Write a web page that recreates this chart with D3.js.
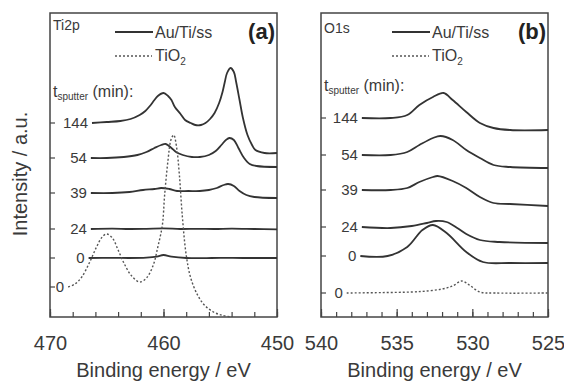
<!DOCTYPE html>
<html lang="en">
<head>
<meta charset="UTF-8">
<title>XPS Ti2p / O1s</title>
<script src="https://d3js.org/d3.v7.min.js"></script>
<style>
    body { margin: 0; background: #fff; }
    svg { display: block; font-family: Arial, "Liberation Sans", sans-serif; }
</style>
</head>
<body>
<svg id="chart" width="564" height="381"></svg>
<script>
// sputter time labels, top to bottom
const sputterLabels = ["144", "54", "39", "24", "0", "0"];

// Ti2p spectra: [binding energy (eV), intensity (a.u.)]
const ti144 = [[466.3,97],[465.0,97.5],[463.8,98],[462.9,99],[462.1,101],[461.6,103],[461.2,105.5],[460.8,108.5],[460.5,110.5],[460.0,112],[459.6,110.5],[459.3,108.5],[459.0,105],[458.5,101.5],[458.1,98.5],[457.6,97],[457.2,96],[456.7,96],[456.3,97],[455.9,99],[455.5,102],[455.1,107],[454.8,112.5],[454.6,117.5],[454.4,122],[454.1,124.5],[453.8,122.5],[453.6,117.5],[453.3,108.5],[453.0,99.5],[452.6,91],[452.2,86],[451.9,83.5],[451.1,82],[450.0,82]];
const ti54 = [[466.4,79.5],[465.0,79.5],[463.5,80],[462.3,81],[461.5,82.5],[460.8,84.5],[460.2,86],[459.8,86.5],[459.3,84.5],[458.9,82.5],[458.3,81],[457.5,80],[456.8,80],[456.0,81],[455.4,83],[454.9,86],[454.5,88.5],[454.2,89.5],[453.8,88.5],[453.4,84.5],[452.9,79.5],[452.4,76.5],[451.8,75.5],[450.0,75]];
const ti39 = [[466.4,62],[464.5,62],[463.0,62.5],[461.8,63.5],[460.8,64],[460.2,64.5],[459.5,64],[458.8,63],[457.8,63],[456.8,63],[456.0,63.5],[455.3,64.5],[454.7,66],[454.3,66.5],[453.8,65.5],[453.3,63],[452.7,61],[452.0,60],[450.0,59.5]];
const ti24 = [[466.4,44],[464.5,44.2],[463.0,44],[461.5,44.1],[460.0,44.3],[458.5,44],[457.0,44.1],[455.5,44],[454.0,44.2],[452.0,44],[450.0,43.8]];
const ti0 = [[466.6,29.5],[464.5,29.6],[463.0,29.5],[461.5,29.7],[460.6,30.2],[460.0,31],[459.3,30.2],[458.0,29.5],[456.5,29.4],[455.0,29.6],[453.0,29.5],[450.0,29.5]];
const tiTiO2 = [[468.4,15],[467.8,16.5],[467.2,20],[466.5,27.5],[465.9,35],[465.4,40],[465.0,41.5],[464.5,39.5],[464.0,33.5],[463.4,26],[462.8,20.5],[462.1,17.5],[461.5,19.5],[460.9,26],[460.5,35],[460.1,46],[459.9,61],[459.6,78.5],[459.35,88.5],[459.1,91],[458.85,85],[458.6,71],[458.35,51],[458.0,31],[457.6,19.5],[457.0,11],[456.4,6],[455.6,2.5],[454.8,0.8],[454.0,0]];

// O1s spectra
const o144 = [[537.3,99.5],[535.4,99.5],[534.3,101],[533.5,106],[532.6,110],[531.9,112],[531.3,108.5],[530.4,102.5],[529.5,97],[528.6,94.5],[527.5,93.5],[525.0,93.5]];
const o54 = [[537.3,81],[535.4,81],[534.3,82.5],[533.5,86],[532.6,89.5],[532.1,90.5],[531.3,88.5],[530.4,83.5],[529.5,79.5],[528.6,76],[527.5,75],[525.0,74.5]];
const o39 = [[537.3,63.5],[535.4,63.5],[534.3,64.5],[533.5,67.5],[532.6,70],[532.3,70.5],[531.3,68],[530.4,64.5],[529.5,60],[528.6,57],[527.5,56.5],[525.0,55.5]];
const o24 = [[537.3,45],[535.4,44.5],[534.0,45.5],[533.0,47],[532.4,48],[531.7,47.5],[531.0,44.5],[530.4,41.5],[529.5,38.5],[528.2,37.5],[525.0,37]];
const o0 = [[537.4,30.5],[535.6,30.5],[534.3,35],[533.3,43.5],[532.6,46],[531.7,42],[530.4,32.5],[529.3,27.5],[527.5,27],[525.0,27]];
const oTiO2 = [[538.3,12],[536.0,12.2],[534.0,12.5],[533.0,13],[532.0,14],[531.3,15.5],[530.7,18],[530.2,16],[529.5,12.5],[528.5,12],[525.0,12]];

const panels = [
    { name: "Ti2p", tag: "(a)", left: 50, domain: [470, 450], major: [470, 460, 450], minorStep: 2,
      series: [ti144, ti54, ti39, ti24, ti0, tiTiO2], legendX: 65, tLabelY: 97, nameY: 30 },
    { name: "O1s", tag: "(b)", left: 321, domain: [540, 525], major: [540, 535, 530, 525], minorStep: 1,
      series: [o144, o54, o39, o24, o0, oTiO2], legendX: 71, tLabelY: 91, nameY: 33 }
];

const svg = d3.select("#chart");
const plotTop = 13, plotBottom = 317, panelW = 227;
const ink = "#333", textCol = "#3a3a3a";

const y = d3.scaleLinear().domain([0, 152]).range([plotBottom, plotTop]);

panels.forEach(p => {
    const x = d3.scaleLinear().domain(p.domain).range([p.left, p.left + panelW]);
    const g = svg.append("g");

    // frame
    g.append("rect")
        .attr("x", p.left).attr("y", plotTop)
        .attr("width", panelW).attr("height", plotBottom - plotTop)
        .attr("fill", "none").attr("stroke", "#444").attr("stroke-width", 1.5);

    // bottom ticks (inward)
    const lo = Math.min(...p.domain), hi = Math.max(...p.domain);
    const minor = d3.range(lo, hi + 0.001, p.minorStep);
    g.append("g")
        .attr("transform", `translate(0,${plotBottom})`)
        .call(d3.axisBottom(x).tickValues(minor).tickSize(-5).tickFormat(""))
        .call(a => a.select(".domain").remove())
        .selectAll("line").attr("stroke", "#444").attr("stroke-width", 1.2);
    g.append("g")
        .attr("transform", `translate(0,${plotBottom})`)
        .call(d3.axisBottom(x).tickValues(p.major).tickSize(-8).tickPadding(14).tickFormat(d3.format("d")))
        .call(a => a.select(".domain").remove())
        .call(a => a.selectAll("line").attr("stroke", "#444").attr("stroke-width", 1.2))
        .call(a => a.selectAll("text").attr("font-size", 20).attr("fill", textCol)
            .attr("font-family", "Arial, 'Liberation Sans', sans-serif").attr("dy", "0.95em"));

    // curves
    const line = d3.line()
        .x(d => x(d[0])).y(d => y(d[1]))
        .curve(d3.curveCatmullRom.alpha(0.5));
    p.series.forEach((s, i) => {
        const dotted = i === p.series.length - 1;
        g.append("path")
            .datum(s)
            .attr("d", line)
            .attr("fill", "none")
            .attr("stroke", dotted ? "#555" : ink)
            .attr("stroke-width", dotted ? 1.4 : 1.8)
            .attr("stroke-dasharray", dotted ? "2,2" : null);

        const yy = y(s[0][1]);
        // left tick at each label level
        g.append("line")
            .attr("x1", p.left).attr("x2", p.left + 5)
            .attr("y1", yy).attr("y2", yy)
            .attr("stroke", "#444").attr("stroke-width", 1.2);
        g.append("text")
            .attr("x", x(s[0][0]) - 4).attr("y", yy)
            .attr("dy", "0.36em")
            .attr("text-anchor", "end")
            .attr("font-size", 15).attr("fill", textCol)
            .text(sputterLabels[i]);
    });

    // panel name and tag
    g.append("text").attr("x", p.left + 3).attr("y", p.nameY)
        .attr("font-size", 14).attr("fill", textCol).text(p.name);
    g.append("text").attr("x", p.left + panelW - 2).attr("y", 39)
        .attr("text-anchor", "end").attr("font-size", 22).attr("font-weight", "bold")
        .attr("fill", "#222").text(p.tag);

    // legend
    const lx = p.left + p.legendX;
    g.append("line").attr("x1", lx).attr("x2", lx + 38).attr("y1", 32).attr("y2", 32)
        .attr("stroke", ink).attr("stroke-width", 1.8);
    g.append("text").attr("x", lx + 40).attr("y", 38)
        .attr("font-size", 16).attr("fill", textCol).text("Au/Ti/ss");
    g.append("line").attr("x1", lx).attr("x2", lx + 37).attr("y1", 56).attr("y2", 56)
        .attr("stroke", "#555").attr("stroke-width", 1.4).attr("stroke-dasharray", "2,2");
    const tio = g.append("text").attr("x", lx + 40).attr("y", 61)
        .attr("font-size", 16).attr("fill", textCol);
    tio.append("tspan").text("TiO");
    tio.append("tspan").attr("font-size", 10).attr("dy", 4).text("2");

    // t_sputter (min):
    const t = g.append("text").attr("x", p.left + 3).attr("y", p.tLabelY)
        .attr("font-size", 16).attr("fill", textCol);
    t.append("tspan").text("t");
    t.append("tspan").attr("font-size", 10).attr("dy", 3).text("sputter");
    t.append("tspan").attr("dy", -3).text(" (min):");

    // x axis title
    g.append("text")
        .attr("x", p.left + panelW / 2).attr("y", 377)
        .attr("text-anchor", "middle").attr("font-size", 20).attr("fill", textCol)
        .text("Binding energy / eV");
});

// y axis title
svg.append("text")
    .attr("transform", "translate(27,174) rotate(-90)")
    .attr("text-anchor", "middle").attr("font-size", 20).attr("fill", textCol)
    .text("Intensity / a.u.");
</script>
</body>
</html>
